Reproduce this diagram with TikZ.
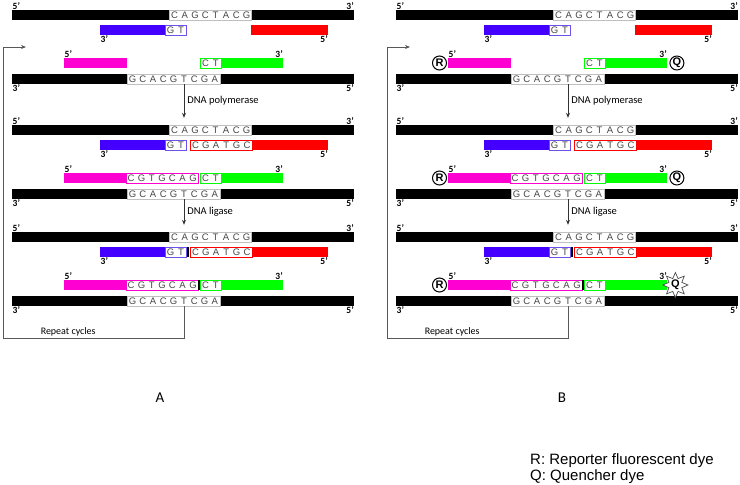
\documentclass[tikz,border=0pt]{standalone}
\usepackage{fontspec}
\setmainfont{Carlito}
\newfontfamily\arialfont{Liberation Sans}
\usetikzlibrary{arrows.meta}
\usetikzlibrary{positioning}
\usetikzlibrary{shapes.geometric}

\definecolor{primerblue}{RGB}{68,0,255}
\definecolor{primerline}{RGB}{110,80,235}
\definecolor{probered}{RGB}{255,0,0}
\definecolor{probemag}{RGB}{255,0,210}
\definecolor{probegreen}{RGB}{0,255,0}

% bases, each one in a cell of the same width
\newcommand\nts[1]{\ntsstep#1\relax}
\newcommand\ntsstep[1]{\ifx\relax#1\else\makebox[10.3pt]{#1}\expandafter\ntsstep\fi}

\tikzset {
  strand/.style = {
    rectangle,
    inner sep = 0,
    minimum height = 10pt,
    anchor = west
  },
  % template and target strands
  template/.style = {
    strand,
    fill = black,
    minimum width = 342pt
  },
  % primers and probes
  oligo/.style = {
    strand,
    fill = #1
  },
  % bases that are shown
  seqbox/.style = {
    strand,
    draw = #1,
    line width = 0.6pt,
    fill = white,
    text = black!72,
    font = \arialfont\fontsize{9.5}{9.5}\selectfont
  },
  nick/.style = {
    rectangle,
    fill = black,
    inner sep = 0,
    minimum width = 2.5pt,
    minimum height = 10pt
  },
  ends/.style = {
    inner sep = 0.5pt,
    font = \bfseries\fontsize{9.5}{10}\selectfont
  },
  step line/.style = {
    draw = black!80,
    line width = 0.7pt,
    -{Stealth[length = 5pt, width = 4pt]}
  },
  step label/.style = {
    right,
    inner sep = 3pt,
    font = \fontsize{10.5}{12}\selectfont
  },
  cycle line/.style = {
    draw = black!65,
    line width = 0.8pt,
    -{Stealth[length = 5pt, width = 4pt]}
  },
  dye/.style = {
    circle,
    draw = black,
    line width = 1pt,
    fill = white,
    minimum size = 14pt,
    inner sep = 0,
    font = \arialfont\bfseries\fontsize{11}{11}\selectfont
  },
  burst/.style = {
    star,
    star points = 8,
    star point ratio = 1.8,
    draw = black!70,
    fill = white,
    line width = 0.7pt,
    minimum size = 22pt,
    inner sep = 0,
    font = \arialfont\bfseries\fontsize{11}{11}\selectfont
  },
  panel label/.style = {
    font = \fontsize{15}{15}\selectfont
  },
  legend/.style = {
    anchor = base west,
    inner sep = 0,
    font = \arialfont\fontsize{15}{15}\selectfont
  }
}

% one step of the reaction: #1 row, #2 offset, #3 stage (1 open, 2 filled, 3 ligated)
\newcommand\ligrow[3]{
  \begin{scope}[yshift = -#2pt]
    \node[template] (t#1) at (12,15) {};
    \node[seqbox = black!25] (tb#1) at (169,15) {\nts{CAGCTACG}};
    \node[ends, above right] (t#1l) at (t#1.north west) {5'};
    \node[ends, above left] (t#1r) at (t#1.north east) {3'};
    \node[oligo = primerblue, minimum width = 86pt] (blue#1) at (100,30) {};
    \node[seqbox = primerline, anchor = east] (gt#1) at (blue#1.east) {\nts{GT}};
    \node[ends, below right] (blue#1l) at (blue#1.south west) {3'};
    \ifnum#3=1
      \node[oligo = probered, minimum width = 77pt] (red#1) at (251,30) {};
      \node[oligo = probemag, minimum width = 63pt] (mag#1) at (64,63) {};
    \else
      \node[oligo = probered, minimum width = 138pt] (red#1) at (190,30) {};
      \node[seqbox = probered, anchor = west] (cg#1) at (red#1.west) {\nts{CGATGC}};
      \node[oligo = probemag, minimum width = 134pt] (mag#1) at (64,63) {};
      \node[seqbox = probemag, anchor = east] (gc#1) at (mag#1.east) {\nts{CGTGCAG}};
    \fi
    \node[ends, below left] (red#1r) at (red#1.south east) {5'};
    \node[oligo = probegreen, minimum width = 83pt] (green#1) at (200,63) {};
    \node[seqbox = probegreen, anchor = west] (ct#1) at (green#1.west) {\nts{CT}};
    \node[ends, above right] (mag#1l) at (mag#1.north west) {5'};
    \node[ends, above left] (green#1r) at (green#1.north east) {3'};
    \ifnum#3=3
      \node[nick] (nb#1) at (188,30) {};
      \node[nick] (nm#1) at (199,63) {};
    \fi
    \node[template] (b#1) at (12,79) {};
    \node[seqbox = black!25] (bb#1) at (127,79) {\nts{GCACGTCGA}};
    \node[ends, below right] (b#1l) at (b#1.south west) {3'};
    \node[ends, below left] (b#1r) at (b#1.south east) {5'};
  \end{scope}
}

% the three steps and the cycle arrow
\newcommand\ligpanel{
  \ligrow{1}{0}{1}
  \ligrow{2}{115}{2}
  \ligrow{3}{222}{3}
  \coordinate (cut) at (184,0);
  \coordinate (back) at (3,338);
  \coordinate (loopin) at (26,47);
  \draw[step line, shorten >= 7pt] (b1.south -| cut) -- node[step label, pos = 0.4] (pol) {DNA polymerase} (t2.north -| cut);
  \draw[step line, shorten >= 7pt] (b2.south -| cut) -- node[step label, pos = 0.4] (lig) {DNA ligase} (t3.north -| cut);
  \draw[cycle line] (b3.south -| cut) |- node[pos = 0.82, above, inner sep = 1.5pt, font = \fontsize{10}{12}\selectfont] (rep) {Repeat cycles} (back) |- (loopin);
}

\begin{document}
\begin{tikzpicture}[x = 1pt, y = -1pt]
  \useasboundingbox (0,0) rectangle (740,485);
  \begin{scope}[name prefix = A-]
    \ligpanel
  \end{scope}
  \begin{scope}[xshift = 384pt, name prefix = B-]
    \ligpanel
    % reporter and quencher on the probe
    \node[dye] (R1) [left = 1pt of mag1] {R};
    \node[dye] (R2) [left = 1pt of mag2] {R};
    \node[dye] (R3) [left = 1pt of mag3] {R};
    \node[dye] (Q1) [right = 2pt of green1] {Q};
    \node[dye] (Q2) [right = 2pt of green2] {Q};
    \node[burst] (Q3) at ([xshift = 8pt]green3.east) {Q};
  \end{scope}
  \node[panel label] (labA) at (160,398) {A};
  \node[panel label] (labB) at (562,398) {B};
  \node[legend] (legR) at (530,464) {R: Reporter fluorescent dye};
  \node[legend] (legQ) at (530,480) {Q: Quencher dye};
\end{tikzpicture}
\end{document}
